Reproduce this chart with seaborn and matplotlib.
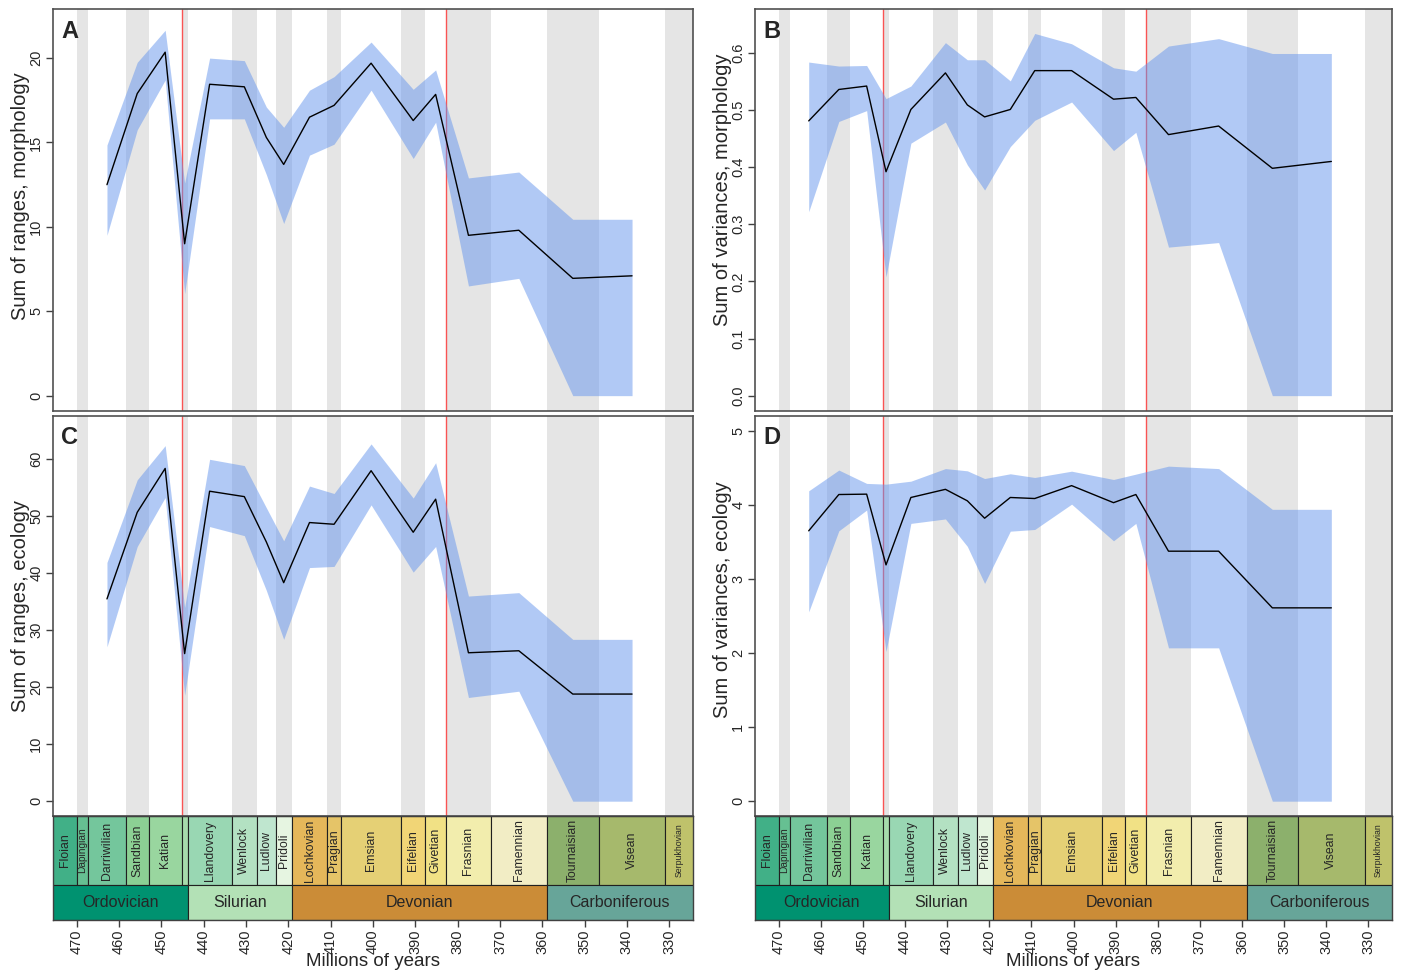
import matplotlib
matplotlib.use("Agg")
import numpy as np
import pandas as pd
import matplotlib.pyplot as plt
import seaborn as sns

sns.set_style("ticks")
plt.rcParams['font.family'] = ['Liberation Sans', 'DejaVu Sans']

# geological stages (Ma, GTS 2012)
stage_names = ['Floian', 'Dapingian', 'Darriwilian', 'Sandbian', 'Katian', 'Hirnantian',
               'Llandovery', 'Wenlock', 'Ludlow', 'Pridoli', 'Lochkovian', 'Pragian',
               'Emsian', 'Eifelian', 'Givetian', 'Frasnian', 'Famennian', 'Tournaisian',
               'Visean', 'Serpukhovian']
stage_start = [477.7, 470.0, 467.3, 458.4, 453.0, 445.2, 443.8, 433.4, 427.4, 423.0,
               419.2, 410.8, 407.6, 393.3, 387.7, 382.7, 372.2, 358.9, 346.7, 330.9]
stage_end = [470.0, 467.3, 458.4, 453.0, 445.2, 443.8, 433.4, 427.4, 423.0, 419.2,
             410.8, 407.6, 393.3, 387.7, 382.7, 372.2, 358.9, 346.7, 330.9, 323.2]
stage_colors = ['#41B087', '#66C092', '#74C69C', '#8CD094', '#99D69F', '#A6DBAB',
                '#99D7B3', '#B3E1C2', '#BFE6CF', '#E6F5E1', '#E5B75A', '#E5C468',
                '#E5D075', '#F1D576', '#F1E185', '#F2EDAD', '#F2EDC5', '#8CB06C',
                '#A6B96C', '#BFC26B']

period_names = ['Ordovician', 'Silurian', 'Devonian', 'Carboniferous']
period_start = [485.4, 443.8, 419.2, 358.9]
period_end = [443.8, 419.2, 358.9, 298.9]
period_colors = ['#009270', '#B3E1B6', '#CB8C37', '#67A599']

extinctions = [445.2, 382.7]

# time bins (stage midpoints, Darriwilian .. Visean)
bin_ages = [462.85, 455.7, 449.1, 444.5, 438.6, 430.4, 425.2, 421.1, 415.0, 409.2,
            400.45, 390.5, 385.2, 377.45, 365.55, 352.8, 338.8]

# A: sum of ranges, morphology
rng_morph = [12.5, 17.9, 20.35, 9.0, 18.45, 18.3, 15.3, 13.7, 16.5, 17.2, 19.7, 16.3,
             17.85, 9.5, 9.8, 6.95, 7.1]
rng_morph_hi = [14.85, 19.75, 21.65, 12.6, 20.0, 19.85, 17.1, 15.9, 18.1, 18.9, 20.95,
                18.15, 19.3, 12.9, 13.25, 10.45, 10.45]
rng_morph_lo = [9.5, 15.75, 18.7, 6.05, 16.4, 16.4, 13.1, 10.2, 14.25, 14.9, 18.1, 14.05,
                16.2, 6.5, 6.95, 0.0, 0.0]

# B: sum of variances, morphology
var_morph = [0.481, 0.536, 0.542, 0.392, 0.501, 0.565, 0.509, 0.488, 0.501, 0.569, 0.569,
             0.519, 0.522, 0.457, 0.472, 0.398, 0.41]
var_morph_hi = [0.584, 0.577, 0.578, 0.52, 0.542, 0.618, 0.588, 0.588, 0.551, 0.634, 0.616,
                0.574, 0.568, 0.612, 0.625, 0.599, 0.599]
var_morph_lo = [0.322, 0.48, 0.499, 0.208, 0.442, 0.479, 0.404, 0.36, 0.436, 0.482, 0.514,
                0.429, 0.461, 0.26, 0.268, 0.0, 0.0]

# C: sum of ranges, ecology
rng_eco = [35.5, 50.7, 58.4, 25.9, 54.4, 53.45, 45.5, 38.35, 48.9, 48.6, 58.0, 47.2, 53.0,
           26.05, 26.4, 18.8, 18.8]
rng_eco_hi = [41.9, 56.4, 62.4, 34.0, 60.0, 58.9, 51.5, 45.7, 55.3, 54.0, 62.7, 53.2, 59.4,
              36.0, 36.6, 28.4, 28.4]
rng_eco_lo = [27.1, 44.7, 53.3, 18.6, 48.2, 46.6, 37.0, 28.4, 41.0, 41.2, 52.0, 40.2, 44.7,
              18.2, 19.3, 0.0, 0.0]

# D: sum of variances, ecology
var_eco = [3.65, 4.14, 4.145, 3.19, 4.1, 4.21, 4.055, 3.82, 4.1, 4.086, 4.26, 4.03, 4.14,
           3.375, 3.375, 2.61, 2.61]
var_eco_hi = [4.19, 4.47, 4.29, 4.28, 4.32, 4.49, 4.46, 4.356, 4.42, 4.37, 4.455, 4.343,
              4.415, 4.523, 4.49, 3.94, 3.94]
var_eco_lo = [2.556, 3.65, 3.93, 2.02, 3.75, 3.81, 3.44, 2.94, 3.645, 3.668, 4.01, 3.515,
              3.75, 2.07, 2.07, 0.0, 0.0]

W, H = 1404, 971
fig = plt.figure(figsize=(W / 100, H / 100), dpi=100)


def px_axes(left, top, width, height):
    return fig.add_axes([left / W, 1 - (top + height) / H, width / W, height / H])


XLIM = (475.6, 324.4)
small_labels = {'Dapingian': 7.3, 'Serpukhovian': 6.3}


def draw_panel(ax, mean, lo, hi, ylim, yticks, ylabel, letter, label_y, fmt):
    # alternating grey stripes behind the data
    for i in range(len(stage_names)):
        if i % 2 == 1:
            ax.axvspan(stage_start[i], stage_end[i], color='#E5E5E5', lw=0, zorder=0)
    for e in extinctions:
        ax.axvline(e, color='#FF3030', lw=1.0, alpha=0.8, zorder=1)
    ax.fill_between(bin_ages, lo, hi, color='cornflowerblue', alpha=0.5, lw=0, zorder=2)
    df = pd.DataFrame({'age': bin_ages, 'value': mean})
    sns.lineplot(data=df, x='age', y='value', ax=ax, color='black', lw=1.0, zorder=3)
    ax.set_xlim(*XLIM)
    ax.set_ylim(*ylim)
    ax.set_xticks([])
    ax.set_xlabel('')
    ax.set_yticks(yticks)
    ax.set_yticklabels([fmt.format(t) for t in yticks], rotation=90, va='center', fontsize=10.5)
    ax.tick_params(axis='y', direction='out', length=5, width=1, pad=2, color='#404040')
    ax.set_ylabel(ylabel, fontsize=14.5)
    ax.yaxis.set_label_coords(-0.036, label_y)
    for s in ax.spines.values():
        s.set_color('#505050')
        s.set_linewidth(1.2)
    ax.text(0.013, 0.975, letter, transform=ax.transAxes, fontsize=17, fontweight='bold',
            ha='left', va='top')


def draw_timescale(ax):
    row = 35 / 104
    ax.bar(stage_start, [1 - row] * len(stage_start),
           width=[e - s for s, e in zip(stage_start, stage_end)], bottom=row,
           align='edge', color=stage_colors, edgecolor='#202020', lw=0.8)
    ax.bar(period_start, [row] * len(period_start),
           width=[e - s for s, e in zip(period_start, period_end)], bottom=0,
           align='edge', color=period_colors, edgecolor='#202020', lw=0.8)
    lo_x, hi_x = XLIM
    for name, s, e in zip(stage_names, stage_start, stage_end):
        if name == 'Hirnantian':
            continue
        c = (min(s, lo_x) + max(e, hi_x)) / 2
        ax.text(c, (1 + row) / 2, name, rotation=90, ha='center', va='center',
                fontsize=small_labels.get(name, 8.8))
    for name, s, e in zip(period_names, period_start, period_end):
        c = (min(s, lo_x) + max(e, hi_x)) / 2
        ax.text(c, row / 2, name, ha='center', va='center', fontsize=11.5)
    ax.set_xlim(*XLIM)
    ax.set_ylim(0, 1)
    ax.set_yticks([])
    ticks = list(range(470, 329, -10))
    ax.set_xticks(ticks)
    ax.set_xticklabels([str(t) for t in ticks], rotation=90, fontsize=10.5)
    ax.tick_params(axis='x', direction='out', length=5, width=1, pad=2, color='#404040')
    ax.set_xlabel('Millions of years', fontsize=13.5, labelpad=-1)
    for s in ax.spines.values():
        s.set_color('#404040')
        s.set_linewidth(1.0)


axA = px_axes(53, 9.5, 640, 401)
axB = px_axes(755, 9.5, 637, 401)
axC = px_axes(53, 416, 640, 400)
axD = px_axes(755, 416, 637, 400)
tsL = px_axes(53, 816, 640, 104)
tsR = px_axes(755, 816, 637, 104)

draw_panel(axA, rng_morph, rng_morph_lo, rng_morph_hi, (-0.88, 22.88), [0, 5, 10, 15, 20],
           'Sum of ranges, morphology', 'A', 0.535, '{:d}')
draw_panel(axB, var_morph, var_morph_lo, var_morph_hi, (-0.026, 0.676),
           [0.0, 0.1, 0.2, 0.3, 0.4, 0.5, 0.6], 'Sum of variances, morphology', 'B', 0.55,
           '{:.1f}')
draw_panel(axC, rng_eco, rng_eco_lo, rng_eco_hi, (-2.6, 67.6), [0, 10, 20, 30, 40, 50, 60],
           'Sum of ranges, ecology', 'C', 0.525, '{:d}')
draw_panel(axD, var_eco, var_eco_lo, var_eco_hi, (-0.2, 5.2), [0, 1, 2, 3, 4, 5],
           'Sum of variances, ecology', 'D', 0.54, '{:d}')
draw_timescale(tsL)
draw_timescale(tsR)

fig.savefig('out.png', dpi=100)
